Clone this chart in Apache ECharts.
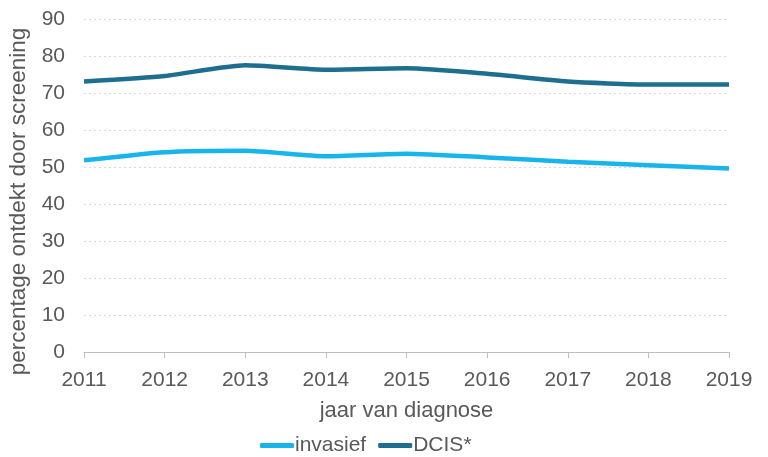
<!DOCTYPE html>
<html><head><meta charset="utf-8">
<script src="https://cdn.jsdelivr.net/npm/echarts@6/dist/echarts.min.js"></script>
<style>html,body{margin:0;padding:0;background:#fff}#c{width:768px;height:457px}</style>
</head><body><div id="c"></div>
<script>
const years = ['2011','2012','2013','2014','2015','2016','2017','2018','2019'];
const invasief = [51.8, 54.0, 54.4, 52.9, 53.6, 52.6, 51.4, 50.5, 49.6];
const dcis = [73.1, 74.6, 77.5, 76.3, 76.7, 75.2, 73.1, 72.3, 72.3];
const FONT = "'Liberation Sans',Arial,sans-serif";
const chart = echarts.init(document.getElementById('c'));
chart.setOption({
  animation:false,
  textStyle:{fontFamily:FONT},
  grid:{left:84,right:39,top:19,bottom:105,containLabel:false,outerBoundsMode:'none'},
  legend:{top:430,left:255,itemWidth:34,itemHeight:5,itemGap:12,
    icon:'roundRect',
    textStyle:{fontFamily:FONT,fontSize:21,color:'#595959',padding:[0,0,0,-4]},
    data:['invasief','DCIS*']},
  xAxis:{type:'category',data:years,boundaryGap:false,
    name:'jaar van diagnose',nameLocation:'middle',nameGap:48,
    nameTextStyle:{fontFamily:FONT,fontSize:22,color:'#595959'},
    axisLine:{lineStyle:{color:'#bfbfbf',width:1}},
    axisTick:{show:true,length:6,lineStyle:{color:'#bfbfbf'}},
    axisLabel:{fontFamily:FONT,fontSize:21,color:'#595959',margin:18}},
  yAxis:{type:'value',min:0,max:90,interval:10,
    name:'percentage ontdekt door screening',nameLocation:'middle',nameGap:42,
    nameTextStyle:{fontFamily:FONT,fontSize:22.5,color:'#595959',padding:[0,32,0,0]},
    axisLine:{show:false},axisTick:{show:false},
    splitLine:{lineStyle:{color:'#d9d9d9',type:[2,3],width:1}},
    axisLabel:{fontFamily:FONT,fontSize:21,color:'#595959',margin:19}},
  series:[
    {name:'invasief',type:'line',data:invasief,smooth:0.2,symbol:'none',
      lineStyle:{color:'#17b5ea',width:4.5},itemStyle:{color:'#17b5ea'}},
    {name:'DCIS*',type:'line',data:dcis,smooth:0.2,symbol:'none',
      lineStyle:{color:'#1e6f8f',width:4.5},itemStyle:{color:'#1e6f8f'}}
  ]
});
</script></body></html>
